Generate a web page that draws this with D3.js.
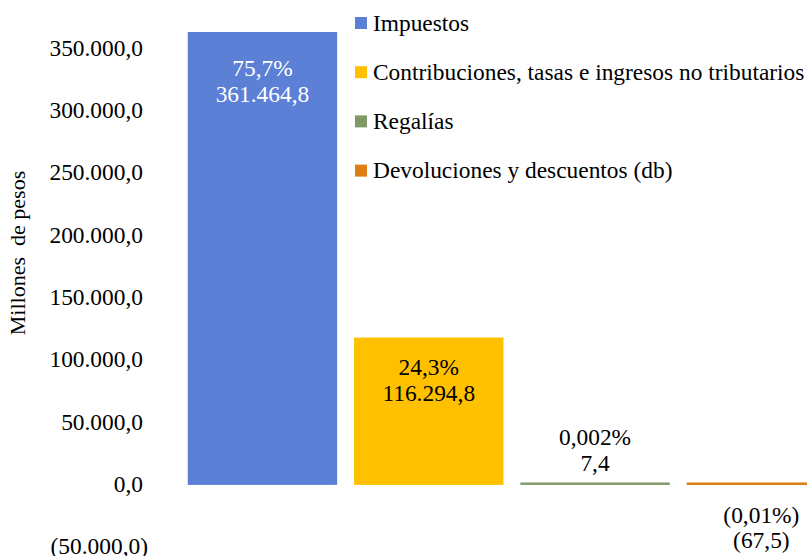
<!DOCTYPE html>
<html>
<head>
<meta charset="utf-8">
<script src="https://cdn.jsdelivr.net/npm/d3@7"></script>
<style>
  html, body { margin: 0; padding: 0; background: #fff; overflow: hidden; }
</style>
</head>
<body>
<script>
var categories = [
    "Impuestos",
    "Contribuciones, tasas e ingresos no tributarios",
    "Regalías",
    "Devoluciones y descuentos (db)"
];
var values = [361464.8, 116294.8, 7.4, -67.5];
var pctLabels = ["75,7%", "24,3%", "0,002%", "(0,01%)"];
var valueLabels = ["361.464,8", "116.294,8", "7,4", "(67,5)"];
var colors = ["#5B80D6", "#FFC000", "#7F9966", "#E07E16"];
var yTicks = [-50000, 0, 50000, 100000, 150000, 200000, 250000, 300000, 350000];

var width = 807, height = 556;
var fontFam = "'Liberation Serif'";
var fontSize = "23.4px";

var svg = d3.select("body")
    .append("svg")
    .attr("width", width)
    .attr("height", height);

var x = d3.scaleBand()
    .domain(categories)
    .range([179.3, 844.5])
    .paddingInner(0.116)
    .paddingOuter(0.058);

var y = d3.scaleLinear()
    .domain([-50000, 350000])
    .range([546, 47.5]);

// number format like excel: 350.000,0 and (50.000,0)
var fmt = d3.formatLocale({decimal: ",", thousands: ".", grouping: [3], currency: ["", ""]}).format(",.1f");
function tickText(v) {
    return v < 0 ? "(" + fmt(-v) + ")" : fmt(v);
}

var yAxis = svg.append("g")
    .attr("class", "axis")
    .attr("transform", "translate(143,0)")
    .call(d3.axisLeft(y).tickValues(yTicks).tickSize(0).tickPadding(0).tickFormat(tickText));

yAxis.attr("font-family", null).attr("font-size", null);
yAxis.selectAll("path.domain").remove();
yAxis.selectAll("text")
    .attr("x", function(d){ return d < 0 ? 5 : 0; })
    .attr("dy", "0.33em")
    .style("font-size", fontSize)
    .style("font-family", fontFam)
    .attr("fill", "#000");

svg.append("text")
    .attr("transform", "translate(25,253) rotate(-90)")
    .attr("text-anchor", "middle")
    .style("font-size", "22px")
    .style("font-family", fontFam)
    .style("white-space", "pre")
    .attr("fill", "#000")
    .text("Millones  de pesos");

// bars (stroke keeps the tiny ones visible, as in the original)
svg.selectAll("rect.bar")
    .data(values)
    .enter()
    .append("rect")
    .attr("class", "bar")
    .attr("x", function(d, i){ return x(categories[i]); })
    .attr("y", function(d){ return y(Math.max(d, 0)); })
    .attr("width", x.bandwidth())
    .attr("height", function(d){ return Math.abs(y(d) - y(0)); })
    .attr("fill", function(d, i){ return colors[i]; })
    .attr("stroke", function(d, i){ return colors[i]; })
    .attr("stroke-width", 2.4);

var labels = svg.selectAll("g.label")
    .data(values)
    .enter()
    .append("g")
    .attr("class", "label")
    .attr("transform", function(d, i){
        var cx = x(categories[i]) + x.bandwidth() / 2;
        var top;
        if (i === 0) top = y(d) + 35;
        else if (i === 1) top = y(d) + 29;
        else if (d >= 0) top = y(d) - 46;
        else top = y(d) + 31;
        return "translate(" + cx + "," + top + ")";
    });

labels.append("text")
    .attr("text-anchor", "middle")
    .attr("dy", "0.33em")
    .style("font-size", fontSize)
    .style("font-family", fontFam)
    .attr("fill", function(d, i){ return i === 0 ? "#fff" : "#000"; })
    .text(function(d, i){ return pctLabels[i]; });

labels.append("text")
    .attr("text-anchor", "middle")
    .attr("y", 26)
    .attr("dy", "0.33em")
    .style("font-size", fontSize)
    .style("font-family", fontFam)
    .attr("fill", function(d, i){ return i === 0 ? "#fff" : "#000"; })
    .text(function(d, i){ return valueLabels[i]; });

// legend
var legend = svg.selectAll("g.legend")
    .data(categories)
    .enter()
    .append("g")
    .attr("class", "legend")
    .attr("transform", function(d, i){ return "translate(355," + (23 + i * 49.2) + ")"; });

legend.append("rect")
    .attr("x", 0)
    .attr("y", -6)
    .attr("width", 12)
    .attr("height", 12)
    .attr("fill", function(d, i){ return colors[i]; });

legend.append("text")
    .attr("x", 18)
    .attr("dy", "0.33em")
    .style("font-size", fontSize)
    .style("font-family", fontFam)
    .attr("fill", "#000")
    .text(function(d){ return d; });
</script>
</body>
</html>
